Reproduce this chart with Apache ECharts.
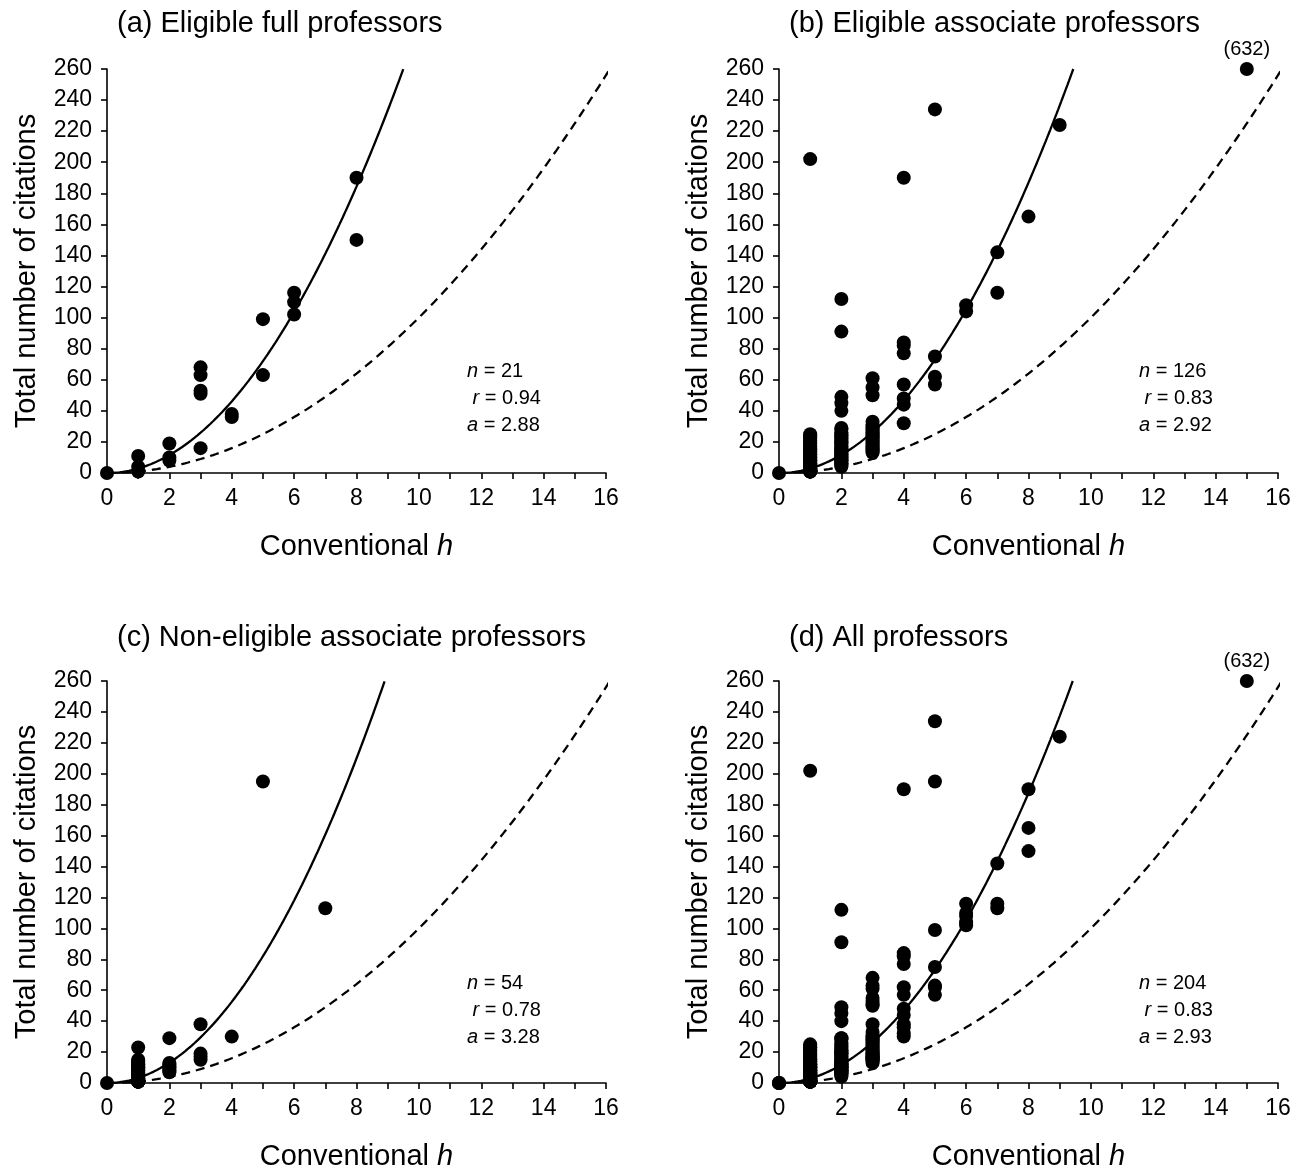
<!DOCTYPE html>
<html>
<head>
<meta charset="utf-8">
<script src="https://cdn.jsdelivr.net/npm/echarts@6/dist/echarts.min.js"></script>
<style>
  html, body { margin: 0; padding: 0; background: #fff; }
  #chart { width: 1303px; height: 1172px; }
</style>
</head>
<body>
<div id="chart"></div>
<script>
// Panel headings
const panelTitles = [
  '(a) Eligible full professors',
  '(b) Eligible associate professors',
  '(c) Non-eligible associate professors',
  '(d) All professors'
];

// Citation counts grouped by conventional h: [h, [total citations, ...]]
const colsFull = [
  [0, [0]],
  [1, [11, 4, 1]],
  [2, [19, 10, 8]],
  [3, [68, 63, 53, 51, 16]],
  [4, [38, 36]],
  [5, [99, 63]],
  [6, [116, 110, 102]],
  [8, [190, 150]]
];

const colsAssoc = [
  [0, [0]],
  [1, [202, 25, 24, 23, 22, 21, 20, 19, 18, 17, 16, 15, 14, 13, 12, 11, 10, 9, 8, 7, 6, 5, 4, 3, 2, 1,
       15, 12, 10, 9, 8, 7, 6, 6, 5, 5, 4, 4, 3, 3, 3, 2, 2, 2, 1, 1, 1]],
  [2, [112, 91, 49, 45, 40, 29, 28, 26, 25, 24, 23, 22, 21, 20, 19, 18, 17, 16, 15, 14, 13, 12, 11, 10, 9, 8, 7, 6, 5, 4,
       20, 15, 12, 10, 8, 6]],
  [3, [61, 55, 50, 33, 31, 30, 29, 28, 27, 26, 25, 24, 23, 22, 21, 20, 19, 18, 17, 16, 15, 14, 13]],
  [4, [190, 84, 82, 77, 57, 48, 44, 32]],
  [5, [234, 75, 62, 57]],
  [6, [108, 104]],
  [7, [142, 116]],
  [8, [165]],
  [9, [224]],
  [15, [632]]
];

const colsNonElig = [
  [0, [0]],
  [1, [23, 15, 14, 13, 12, 12, 11, 11, 10, 10, 9, 9, 8, 8, 7, 6, 5, 5, 4, 4, 3, 3, 3, 2, 2, 2, 2, 2,
       1, 1, 1, 1, 1, 1, 1, 1, 1, 1]],
  [2, [29, 13, 12, 11, 10, 9, 8, 7]],
  [3, [38, 19, 17, 15]],
  [4, [30]],
  [5, [195]],
  [7, [113]]
];

// Professors appearing only in the pooled sample
const colsOther = [
  [1, [8]],
  [2, [12]],
  [4, [62]]
];

// Fit statistics per panel
const nValues = [21, 126, 54, 204];
const rValues = ['0.94', '0.83', '0.78', '0.83'];
const aValues = [2.88, 2.92, 3.28, 2.93];

// Axis ranges
const xMin = 0, xMax = 16, xStep = 1;
const yMin = 0, yMax = 260, yStep = 20;

const FONT = '"Liberation Sans", Arial, Helvetica, sans-serif';

function toPoints(cols) {
  const pts = [];
  cols.forEach(function (c) {
    c[1].forEach(function (v) { pts.push([c[0], v]); });
  });
  return pts;
}

const panelPoints = [
  toPoints(colsFull),
  toPoints(colsAssoc),
  toPoints(colsNonElig),
  toPoints(colsFull).concat(toPoints(colsAssoc), toPoints(colsNonElig), toPoints(colsOther))
];

// Model curve: citations = coef * h^2, drawn up to the top of the axis
function curve(coef) {
  const hEnd = Math.sqrt(yMax / coef);
  const pts = [];
  for (let h = 0; h < hEnd; h += 0.05) pts.push([h, coef * h * h]);
  pts.push([hEnd, yMax]);
  return pts;
}

// Points above the axis range sit on the top edge, labelled with their value
function scatterData(pts) {
  return pts.map(function (p) {
    if (p[1] > yMax) {
      return {
        name: String(p[1]),
        value: [p[0], yMax],
        label: {
          show: true, position: 'top', distance: 3,
          formatter: '({b})', fontSize: 20, color: '#000', fontFamily: FONT
        }
      };
    }
    return { value: p };
  });
}

const grids = [
  { left: 107, top: 69, width: 499, height: 404 },
  { left: 779, top: 69, width: 499, height: 404 },
  { left: 107, top: 681, width: 499, height: 405 },
  { left: 779, top: 681, width: 499, height: 405 }
];

const titles = [];
grids.forEach(function (g, i) {
  titles.push({
    text: panelTitles[i],
    left: g.left + 10,
    top: g.top - (i < 2 ? 60 : 58),
    padding: 0,
    textStyle: { fontSize: 29, fontWeight: 'normal', color: '#000', fontFamily: FONT }
  });
  titles.push({
    text: '{i|n} = ' + nValues[i] + '\n {i|r} = ' + rValues[i] + '\n{i|a} = ' + aValues[i].toFixed(2),
    left: g.left + 360,
    top: g.top + 289,
    padding: 0,
    textStyle: {
      fontSize: 20, fontWeight: 'normal', color: '#000', fontFamily: FONT, lineHeight: 27,
      rich: { i: { fontStyle: 'italic', fontSize: 20, lineHeight: 27, fontFamily: FONT, color: '#000' } }
    }
  });
});

const axisLineStyle = { color: '#000', width: 1.6 };

const xAxes = grids.map(function (g, i) {
  return {
    type: 'value', gridIndex: i, min: xMin, max: xMax, interval: xStep,
    axisLine: { show: true, onZero: false, lineStyle: axisLineStyle },
    axisTick: { show: true, inside: false, length: 6, lineStyle: axisLineStyle },
    axisLabel: {
      show: true, margin: 14, fontSize: 23, color: '#000', fontFamily: FONT,
      formatter: function (v) { return v % 2 === 0 ? String(v) : ''; }
    },
    splitLine: { show: false },
    name: '{t|Conventional }{i|h}',
    nameLocation: 'middle',
    nameGap: 59,
    nameTextStyle: {
      fontSize: 29, color: '#000', fontFamily: FONT,
      rich: {
        t: { fontSize: 29, fontFamily: FONT, color: '#000' },
        i: { fontSize: 29, fontFamily: FONT, color: '#000', fontStyle: 'italic' }
      }
    }
  };
});

const yAxes = grids.map(function (g, i) {
  return {
    type: 'value', gridIndex: i, min: yMin, max: yMax, interval: yStep,
    axisLine: { show: true, onZero: false, lineStyle: axisLineStyle },
    axisTick: { show: true, inside: false, length: 6, lineStyle: axisLineStyle },
    axisLabel: { show: true, margin: 15, fontSize: 23, color: '#000', fontFamily: FONT },
    splitLine: { show: false },
    name: 'Total number of citations',
    nameLocation: 'middle',
    nameGap: 66,
    nameTextStyle: { fontSize: 29, color: '#000', fontFamily: FONT }
  };
});

const series = [];
grids.forEach(function (g, i) {
  series.push({
    type: 'line', xAxisIndex: i, yAxisIndex: i,
    data: curve(1), showSymbol: false, symbol: 'none', clip: false, silent: true,
    lineStyle: { color: '#000', width: 2.3, type: [9, 6] }, z: 2
  });
  series.push({
    type: 'line', xAxisIndex: i, yAxisIndex: i,
    data: curve(aValues[i]), showSymbol: false, symbol: 'none', clip: false, silent: true,
    lineStyle: { color: '#000', width: 2.3 }, z: 2
  });
  series.push({
    type: 'scatter', xAxisIndex: i, yAxisIndex: i,
    data: scatterData(panelPoints[i]),
    symbol: 'circle', symbolSize: 14, clip: false,
    itemStyle: { color: '#000', opacity: 1 }, z: 3
  });
});

const chart = echarts.init(document.getElementById('chart'), null, { renderer: 'canvas' });
chart.setOption({
  animation: false,
  backgroundColor: '#fff',
  textStyle: { fontFamily: FONT, color: '#000' },
  title: titles,
  grid: grids,
  xAxis: xAxes,
  yAxis: yAxes,
  series: series
});
</script>
</body>
</html>
